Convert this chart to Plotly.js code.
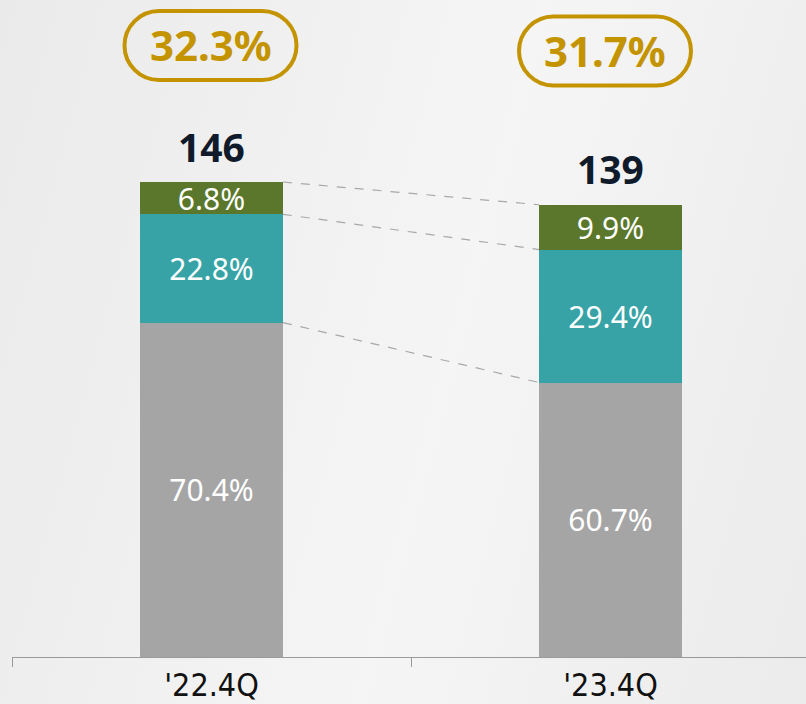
<!DOCTYPE html>
<html><head><meta charset="utf-8">
<script src="https://cdn.plot.ly/plotly-3.0.1.min.js"></script>
<style>
html,body{margin:0;padding:0;}
body{width:806px;height:704px;overflow:hidden;background:linear-gradient(105deg,#eaeaea 0%,#f2f2f2 40%,#f5f5f5 55%,#ebebeb 100%);}
#chart{width:806px;height:704px;}
</style></head><body><div id="chart"></div>
<script>
// ---- data ----
const categories = ["'22.4Q", "'23.4Q"];
const totals = [146, 139];
const grayShare = [70.4, 60.7];
const tealShare = [22.8, 29.4];
const greenShare = [6.8, 9.9];
const ratioLabels = ["32.3%", "31.7%"];

// ---- styling ----
const W = 806, H = 704, ML = 12, MB = 47, MT = 0, MR = 0;
const plotW = W - ML - MR, plotH = H - MT - MB;
const BW = 0.358;
const colors = {gray: '#a5a5a5', teal: '#37a3a6', green: '#5b772b', gold: '#c49400'};

const segVal = (share) => share.map((p, i) => totals[i] * p / 100);
const gVals = segVal(grayShare), tVals = segVal(tealShare), grVals = segVal(greenShare);

function barTrace(vals, shares, color) {
  return {
    type: 'bar', x: categories, y: vals, width: BW,
    marker: {color: color, line: {width: 0}},
    text: shares.map(s => s.toFixed(1) + '%'),
    textposition: 'inside', insidetextanchor: 'middle', textangle: 0,
    constraintext: 'none',
    textfont: {family: 'Noto Sans, Open Sans, sans-serif', size: 30, color: '#ffffff'},
    hoverinfo: 'skip', showlegend: false
  };
}
const data = [
  barTrace(gVals, grayShare, colors.gray),
  barTrace(tVals, tealShare, colors.teal),
  barTrace(grVals, greenShare, colors.green)
];

// dashed connectors between segment boundaries
const levels = totals.map((t, i) => [gVals[i], gVals[i] + tVals[i], gVals[i] + tVals[i] + grVals[i]]);
const shapes = [];
for (let k = 0; k < 3; k++) {
  shapes.push({type: 'line', xref: 'x', yref: 'y', x0: 0 + BW / 2, x1: 1 - BW / 2,
    y0: levels[0][k], y1: levels[1][k], line: {color: '#a8a8a8', width: 1.2, dash: 'dash'}, layer: 'below'});
}

// rounded "pill" frames around ratio labels
const pxX = (px) => (px - ML) / plotW;
const pxY = (py) => (H - MB - py) / plotH;
function pillPath(w, h) {
  const hw = w / 2, hh = h / 2, r = hh, s = hw - r, k = 0.5523 * r;
  return `M ${-s},${-hh} L ${s},${-hh} C ${s + k},${-hh} ${hw},${-k} ${hw},0 C ${hw},${k} ${s + k},${hh} ${s},${hh} ` +
         `L ${-s},${hh} C ${-s - k},${hh} ${-hw},${k} ${-hw},0 C ${-hw},${-k} ${-s - k},${-hh} ${-s},${-hh} Z`;
}
const pillCenters = [[210.5, 45.5], [605, 51]];
pillCenters.forEach(([cx, cy]) => {
  shapes.push({type: 'path', xref: 'paper', yref: 'paper', xsizemode: 'pixel', ysizemode: 'pixel',
    xanchor: pxX(cx), yanchor: pxY(cy), path: pillPath(172, 69),
    line: {color: colors.gold, width: 4}, fillcolor: 'rgba(0,0,0,0)'});
});

const annotations = [];
ratioLabels.forEach((t, i) => {
  annotations.push({xref: 'paper', yref: 'paper', x: pxX(pillCenters[i][0]), y: pxY(pillCenters[i][1] - 1),
    text: t, showarrow: false, xanchor: 'center', yanchor: 'middle',
    font: {family: 'Noto Sans, Open Sans, sans-serif', size: 42, color: colors.gold, weight: 'bold'}});
});
totals.forEach((t, i) => {
  annotations.push({xref: 'x', yref: 'y', x: categories[i], y: t, yshift: 36,
    text: String(t), showarrow: false, xanchor: 'center', yanchor: 'middle',
    font: {family: 'Noto Sans, Open Sans, sans-serif', size: 39, color: '#0f1a2b', weight: 'bold'}});
});

const layout = {
  width: W, height: H,
  margin: {l: ML, r: MR, t: MT, b: MB, pad: 0},
  paper_bgcolor: 'rgba(0,0,0,0)', plot_bgcolor: 'rgba(0,0,0,0)',
  barmode: 'stack', showlegend: false, hovermode: false,
  xaxis: {type: 'category', range: [-0.5, -0.5 + plotW / 399], tickson: 'boundaries',
    ticks: 'outside', ticklen: 9, tickcolor: '#9a9a9a', tickwidth: 1,
    showline: true, linecolor: '#9a9a9a', linewidth: 1, showgrid: false, zeroline: false,
    tickfont: {family: 'DejaVu Sans Condensed, DejaVu Sans, sans-serif', size: 32, color: '#111111'},
    fixedrange: true},
  yaxis: {visible: false, range: [0, plotH / (475 / 146)], fixedrange: true},
  shapes: shapes, annotations: annotations
};
Plotly.newPlot('chart', data, layout, {staticPlot: true, displayModeBar: false});
</script></body></html>
